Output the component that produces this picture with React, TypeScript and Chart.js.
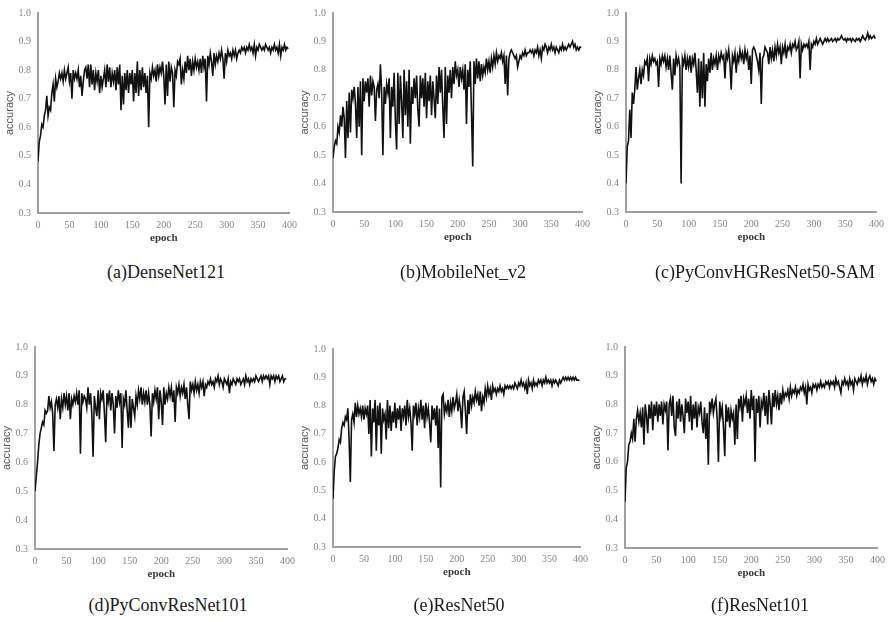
import React, { useEffect, useRef } from "react";
import { Chart, registerables } from "chart.js";

Chart.register(...registerables);

// ---------------- data ----------------
// one value every EPOCH_STEP epochs, starting at epoch 0
const EPOCH_STEP = 2;
const X_MIN = 0;
const X_MAX = 400;
const X_STEP = 50;
const Y_MIN = 0.3;
const Y_MAX = 1.0;
const Y_STEP = 0.1;

const captions = [
  "(a)DenseNet121",
  "(b)MobileNet_v2",
  "(c)PyConvHGResNet50-SAM",
  "(d)PyConvResNet101",
  "(e)ResNet50",
  "(f)ResNet101",
];

const denseNet121 = [
  0.48, 0.55, 0.57, 0.61, 0.60, 0.64, 0.66, 0.71, 0.64, 0.67,
  0.66, 0.72, 0.75, 0.69, 0.77, 0.74, 0.76, 0.79, 0.77, 0.79,
  0.76, 0.80, 0.77, 0.79, 0.81, 0.76, 0.79, 0.70, 0.80, 0.77,
  0.79, 0.77, 0.80, 0.74, 0.78, 0.71, 0.76, 0.80, 0.81, 0.77,
  0.82, 0.74, 0.82, 0.75, 0.80, 0.73, 0.79, 0.76, 0.80, 0.72,
  0.78, 0.74, 0.77, 0.80, 0.74, 0.82, 0.76, 0.81, 0.74, 0.79,
  0.76, 0.80, 0.73, 0.81, 0.75, 0.82, 0.66, 0.78, 0.68, 0.79,
  0.73, 0.80, 0.72, 0.79, 0.75, 0.80, 0.69, 0.79, 0.72, 0.83,
  0.71, 0.80, 0.73, 0.81, 0.74, 0.79, 0.72, 0.78, 0.60, 0.79,
  0.77, 0.81, 0.78, 0.80, 0.76, 0.82, 0.78, 0.81, 0.79, 0.83,
  0.78, 0.68, 0.82, 0.71, 0.83, 0.76, 0.81, 0.79, 0.67, 0.80,
  0.78, 0.83, 0.82, 0.84, 0.75, 0.80, 0.77, 0.83, 0.79, 0.85,
  0.80, 0.84, 0.78, 0.83, 0.80, 0.84, 0.81, 0.83, 0.80, 0.84,
  0.79, 0.85, 0.81, 0.84, 0.69, 0.85, 0.82, 0.86, 0.83, 0.78,
  0.86, 0.82, 0.85, 0.83, 0.86, 0.84, 0.87, 0.84, 0.77, 0.86,
  0.83, 0.87, 0.85, 0.86, 0.84, 0.87, 0.85, 0.87, 0.84, 0.86,
  0.87, 0.86, 0.88, 0.87, 0.88, 0.86, 0.88, 0.87, 0.89, 0.87,
  0.88, 0.86, 0.89, 0.85, 0.88, 0.87, 0.89, 0.88, 0.87, 0.88,
  0.87, 0.89, 0.88, 0.87, 0.88, 0.86, 0.88, 0.87, 0.89, 0.87,
  0.88, 0.86, 0.89, 0.85, 0.88, 0.87, 0.89, 0.87, 0.88, 0.875,
];

const mobileNetV2 = [
  0.49, 0.53, 0.55, 0.54, 0.60, 0.58, 0.64, 0.60, 0.67, 0.63,
  0.49, 0.69, 0.56, 0.72, 0.58, 0.73, 0.70, 0.74, 0.68, 0.56,
  0.74, 0.60, 0.76, 0.50, 0.77, 0.69, 0.76, 0.72, 0.77, 0.67,
  0.78, 0.71, 0.76, 0.74, 0.62, 0.73, 0.75, 0.70, 0.82, 0.72,
  0.50, 0.74, 0.68, 0.75, 0.72, 0.77, 0.56, 0.74, 0.67, 0.79,
  0.62, 0.52, 0.79, 0.61, 0.78, 0.69, 0.56, 0.80, 0.64, 0.76,
  0.60, 0.80, 0.54, 0.74, 0.68, 0.77, 0.70, 0.78, 0.66, 0.60,
  0.78, 0.70, 0.77, 0.67, 0.79, 0.63, 0.76, 0.69, 0.78, 0.64,
  0.76, 0.70, 0.63, 0.78, 0.68, 0.81, 0.72, 0.80, 0.67, 0.56,
  0.81, 0.61, 0.78, 0.72, 0.80, 0.70, 0.81, 0.75, 0.83, 0.78,
  0.80, 0.74, 0.81, 0.77, 0.80, 0.73, 0.82, 0.61, 0.80, 0.74,
  0.83, 0.65, 0.46, 0.83, 0.75, 0.84, 0.77, 0.83, 0.76, 0.82,
  0.78, 0.81, 0.79, 0.84, 0.80, 0.83, 0.79, 0.84, 0.81, 0.85,
  0.82, 0.86, 0.83, 0.85, 0.84, 0.86, 0.83, 0.85, 0.75, 0.85,
  0.71, 0.84, 0.86, 0.87, 0.86, 0.85, 0.84, 0.85, 0.81, 0.83,
  0.85, 0.84, 0.86, 0.85, 0.87, 0.85, 0.86, 0.86, 0.87, 0.86,
  0.87, 0.85, 0.87, 0.86, 0.88, 0.85, 0.87, 0.84, 0.88, 0.87,
  0.89, 0.88, 0.86, 0.88, 0.87, 0.89, 0.87, 0.88, 0.86, 0.88,
  0.87, 0.86, 0.88, 0.87, 0.89, 0.87, 0.88, 0.87, 0.88, 0.89,
  0.88, 0.89, 0.90, 0.88, 0.89, 0.87, 0.88, 0.87, 0.88, 0.88,
];

const pyConvHGResNet50SAM = [
  0.40, 0.53, 0.55, 0.66, 0.56, 0.72, 0.68, 0.73, 0.81, 0.73,
  0.77, 0.80, 0.75, 0.80, 0.78, 0.83, 0.82, 0.84, 0.76, 0.84,
  0.82, 0.85, 0.83, 0.84, 0.82, 0.83, 0.74, 0.84, 0.82, 0.85,
  0.83, 0.85, 0.81, 0.84, 0.80, 0.85, 0.79, 0.73, 0.84, 0.78,
  0.85, 0.82, 0.84, 0.81, 0.40, 0.84, 0.82, 0.85, 0.80, 0.84,
  0.81, 0.85, 0.79, 0.84, 0.82, 0.86, 0.80, 0.72, 0.84, 0.67,
  0.83, 0.70, 0.86, 0.67, 0.82, 0.76, 0.84, 0.79, 0.86, 0.80,
  0.84, 0.82, 0.85, 0.80, 0.85, 0.83, 0.86, 0.84, 0.85, 0.77,
  0.86, 0.84, 0.87, 0.82, 0.73, 0.85, 0.83, 0.86, 0.79, 0.85,
  0.83, 0.87, 0.84, 0.86, 0.82, 0.87, 0.84, 0.86, 0.80, 0.85,
  0.75, 0.87, 0.88, 0.87, 0.85, 0.83, 0.80, 0.86, 0.68, 0.84,
  0.85, 0.88, 0.87, 0.86, 0.82, 0.88, 0.84, 0.87, 0.83, 0.88,
  0.85, 0.89, 0.86, 0.88, 0.82, 0.88, 0.86, 0.89, 0.84, 0.88,
  0.87, 0.89, 0.86, 0.89, 0.88, 0.90, 0.87, 0.88, 0.90, 0.77,
  0.89, 0.87, 0.89, 0.88, 0.89, 0.88, 0.90, 0.80, 0.89, 0.88,
  0.90, 0.89, 0.91, 0.89, 0.90, 0.91, 0.90, 0.89, 0.90, 0.91,
  0.90, 0.91, 0.90, 0.905, 0.91, 0.90, 0.905, 0.91, 0.90, 0.91,
  0.905, 0.91, 0.92, 0.91, 0.905, 0.91, 0.90, 0.91, 0.905, 0.91,
  0.90, 0.91, 0.905, 0.90, 0.91, 0.905, 0.91, 0.90, 0.91, 0.92,
  0.91, 0.905, 0.915, 0.93, 0.91, 0.92, 0.91, 0.915, 0.92, 0.91,
];

const pyConvResNet101 = [
  0.50, 0.55, 0.60, 0.66, 0.70, 0.72, 0.74, 0.73, 0.78, 0.77,
  0.78, 0.83, 0.79, 0.81, 0.77, 0.64, 0.80, 0.82, 0.79, 0.83,
  0.75, 0.82, 0.79, 0.84, 0.80, 0.83, 0.78, 0.84, 0.75, 0.82,
  0.80, 0.83, 0.81, 0.84, 0.80, 0.85, 0.63, 0.84, 0.81, 0.83,
  0.82, 0.79, 0.86, 0.80, 0.84, 0.77, 0.62, 0.83, 0.79, 0.76,
  0.85, 0.75, 0.84, 0.82, 0.85, 0.77, 0.67, 0.84, 0.81, 0.85,
  0.78, 0.84, 0.80, 0.70, 0.83, 0.79, 0.85, 0.81, 0.84, 0.65,
  0.82, 0.80, 0.85, 0.78, 0.72, 0.83, 0.72, 0.82, 0.79, 0.76,
  0.83, 0.80, 0.85, 0.82, 0.86, 0.80, 0.84, 0.81, 0.85, 0.80,
  0.84, 0.80, 0.69, 0.84, 0.81, 0.85, 0.82, 0.86, 0.75, 0.85,
  0.81, 0.73, 0.86, 0.80, 0.84, 0.82, 0.86, 0.83, 0.86, 0.81,
  0.85, 0.74, 0.86, 0.84, 0.87, 0.83, 0.86, 0.84, 0.87, 0.82,
  0.86, 0.80, 0.75, 0.88, 0.85, 0.87, 0.84, 0.88, 0.85, 0.87,
  0.84, 0.88, 0.86, 0.88, 0.83, 0.87, 0.86, 0.88, 0.87, 0.89,
  0.87, 0.88, 0.86, 0.89, 0.88, 0.90, 0.87, 0.89, 0.88, 0.86,
  0.89, 0.88, 0.87, 0.89, 0.84, 0.88, 0.87, 0.89, 0.88, 0.87,
  0.89, 0.88, 0.89, 0.87, 0.88, 0.89, 0.87, 0.90, 0.88, 0.89,
  0.87, 0.89, 0.88, 0.89, 0.88, 0.90, 0.89, 0.88, 0.89, 0.90,
  0.88, 0.90, 0.89, 0.90, 0.89, 0.90, 0.87, 0.90, 0.89, 0.90,
  0.88, 0.90, 0.89, 0.90, 0.88, 0.89, 0.90, 0.88, 0.89, 0.89,
];

const resNet50 = [
  0.47, 0.57, 0.62, 0.63, 0.65, 0.68, 0.67, 0.72, 0.74, 0.73,
  0.76, 0.75, 0.79, 0.68, 0.53, 0.75, 0.77, 0.74, 0.81, 0.76,
  0.80, 0.77, 0.79, 0.76, 0.80, 0.75, 0.79, 0.77, 0.80, 0.70,
  0.82, 0.62, 0.79, 0.74, 0.82, 0.64, 0.80, 0.73, 0.81, 0.63,
  0.79, 0.75, 0.77, 0.68, 0.82, 0.72, 0.80, 0.71, 0.78, 0.74,
  0.81, 0.72, 0.79, 0.75, 0.80, 0.71, 0.79, 0.76, 0.80, 0.73,
  0.82, 0.76, 0.79, 0.74, 0.64, 0.80, 0.77, 0.81, 0.73, 0.79,
  0.76, 0.82, 0.75, 0.80, 0.72, 0.81, 0.76, 0.79, 0.74, 0.67,
  0.80, 0.75, 0.79, 0.73, 0.80, 0.65, 0.79, 0.51, 0.83, 0.84,
  0.77, 0.80, 0.78, 0.82, 0.76, 0.81, 0.78, 0.83, 0.79, 0.81,
  0.84, 0.78, 0.82, 0.79, 0.72, 0.83, 0.85, 0.78, 0.70, 0.82,
  0.77, 0.84, 0.80, 0.83, 0.81, 0.85, 0.82, 0.84, 0.80, 0.85,
  0.78, 0.83, 0.81, 0.86, 0.83, 0.87, 0.84, 0.86, 0.82, 0.87,
  0.85, 0.86, 0.84, 0.86, 0.85, 0.87, 0.85, 0.86, 0.84, 0.87,
  0.86, 0.87, 0.86, 0.87, 0.86, 0.87, 0.86, 0.88, 0.87, 0.86,
  0.88, 0.87, 0.89, 0.87, 0.88, 0.86, 0.88, 0.84, 0.89, 0.87,
  0.88, 0.86, 0.89, 0.87, 0.88, 0.87, 0.89, 0.88, 0.89, 0.87,
  0.89, 0.88, 0.90, 0.88, 0.89, 0.88, 0.89, 0.87, 0.89, 0.88,
  0.89, 0.88, 0.87, 0.89, 0.88, 0.89, 0.90, 0.89, 0.90, 0.89,
  0.90, 0.89, 0.90, 0.89, 0.90, 0.89, 0.90, 0.89, 0.89, 0.89,
];

const resNet101 = [
  0.46, 0.58, 0.60, 0.66, 0.67, 0.70, 0.68, 0.75, 0.67, 0.75,
  0.78, 0.74, 0.77, 0.72, 0.79, 0.66, 0.80, 0.76, 0.70, 0.80,
  0.75, 0.81, 0.71, 0.80, 0.76, 0.81, 0.74, 0.80, 0.76, 0.81,
  0.73, 0.80, 0.78, 0.81, 0.64, 0.80, 0.82, 0.76, 0.83, 0.72,
  0.69, 0.81, 0.75, 0.82, 0.74, 0.80, 0.76, 0.70, 0.82, 0.77,
  0.81, 0.74, 0.83, 0.71, 0.80, 0.75, 0.81, 0.72, 0.79, 0.77,
  0.81, 0.74, 0.70, 0.79, 0.68, 0.77, 0.59, 0.81, 0.78, 0.82,
  0.77, 0.80, 0.82, 0.75, 0.60, 0.81, 0.76, 0.79, 0.72, 0.62,
  0.80, 0.74, 0.79, 0.72, 0.78, 0.75, 0.77, 0.66, 0.80, 0.68,
  0.82, 0.79, 0.83, 0.74, 0.82, 0.80, 0.83, 0.77, 0.82, 0.75,
  0.85, 0.78, 0.83, 0.60, 0.82, 0.77, 0.83, 0.72, 0.81, 0.79,
  0.84, 0.76, 0.83, 0.73, 0.85, 0.80, 0.73, 0.84, 0.79, 0.85,
  0.80, 0.83, 0.78, 0.84, 0.80, 0.85, 0.82, 0.84, 0.83, 0.85,
  0.82, 0.86, 0.83, 0.85, 0.84, 0.86, 0.83, 0.85, 0.84, 0.86,
  0.85, 0.87, 0.84, 0.86, 0.80, 0.87, 0.85, 0.86, 0.84, 0.87,
  0.86, 0.87, 0.85, 0.87, 0.86, 0.88, 0.86, 0.87, 0.86, 0.88,
  0.87, 0.88, 0.86, 0.88, 0.87, 0.88, 0.86, 0.89, 0.87, 0.88,
  0.86, 0.84, 0.88, 0.87, 0.89, 0.87, 0.88, 0.86, 0.89, 0.87,
  0.88, 0.85, 0.89, 0.88, 0.87, 0.89, 0.88, 0.90, 0.87, 0.89,
  0.88, 0.90, 0.87, 0.89, 0.90, 0.88, 0.89, 0.87, 0.89, 0.88,
];

const seriesList = [
  denseNet121,
  mobileNetV2,
  pyConvHGResNet50SAM,
  pyConvResNet101,
  resNet50,
  resNet101,
];

// ---------------- layout (page pixels) ----------------
// plot rectangle of each panel, and the caption centre
const PANEL_LAYOUT = [
  { l: 38, t: 9, r: 295, b: 213, cx: 166, cy: 272 },
  { l: 333, t: 9, r: 588, b: 212, cx: 463, cy: 272 },
  { l: 626, t: 9, r: 882, b: 212, cx: 765, cy: 272 },
  { l: 35, t: 343, r: 293, b: 549, cx: 168, cy: 605 },
  { l: 333, t: 345, r: 586, b: 547, cx: 459, cy: 605 },
  { l: 625, t: 343, r: 883, b: 548, cx: 760, cy: 605 },
];

const Y_AXIS_W = 38;
const X_AXIS_H = 32;
const PAD_TOP = 9;
const PAD_RIGHT = 8;

const AXIS_COLOR = "#a0a0a0";
const TICK_COLOR = "#858585";
const LINE_COLOR = "#111111";

function Panel({ values, layout }: { values: number[]; layout: any }) {
  const ref = useRef<HTMLCanvasElement | null>(null);
  const width = layout.r - layout.l + Y_AXIS_W + PAD_RIGHT;
  const height = layout.b - layout.t + PAD_TOP + X_AXIS_H;

  useEffect(() => {
    if (!ref.current) return;
    const points = values.map((v, i) => ({ x: i * EPOCH_STEP, y: v }));
    const chart = new Chart(ref.current, {
      type: "line",
      data: {
        datasets: [
          {
            data: points,
            borderColor: LINE_COLOR,
            borderWidth: 1.6,
            pointRadius: 0,
            fill: false,
            tension: 0,
          },
        ],
      },
      options: {
        responsive: false,
        animation: false,
        events: [],
        layout: { padding: { top: PAD_TOP, right: PAD_RIGHT, left: 0, bottom: 0 } },
        plugins: { legend: { display: false }, tooltip: { enabled: false } },
        scales: {
          x: {
            type: "linear",
            min: X_MIN,
            max: X_MAX,
            ticks: {
              stepSize: X_STEP,
              color: TICK_COLOR,
              font: { family: "'Liberation Serif', serif", size: 10 },
              padding: 6,
              maxRotation: 0,
              autoSkip: false,
            },
            grid: { display: false, drawTicks: false },
            border: { display: true, color: AXIS_COLOR, width: 2 },
            title: {
              display: true,
              text: "epoch",
              color: "#3a3a3a",
              font: { family: "'Liberation Serif', serif", size: 11, weight: "bold" },
              padding: { top: 0, bottom: 0 },
            },
            afterFit: (s: any) => {
              s.height = X_AXIS_H;
            },
          },
          y: {
            type: "linear",
            min: Y_MIN,
            max: Y_MAX,
            ticks: {
              stepSize: Y_STEP,
              color: TICK_COLOR,
              font: { family: "'Liberation Serif', serif", size: 10 },
              padding: 7,
              callback: (v: any) => Number(v).toFixed(1),
            },
            grid: { display: false, drawTicks: false },
            border: { display: true, color: AXIS_COLOR, width: 2 },
            title: {
              display: true,
              text: "accuracy",
              color: "#555555",
              font: { family: "'Liberation Sans', sans-serif", size: 11 },
              padding: { top: 3, bottom: 0 },
            },
            afterFit: (s: any) => {
              s.width = Y_AXIS_W;
            },
          },
        },
      } as any,
    });
    return () => chart.destroy();
  }, [values]);

  return (
    <canvas
      ref={ref}
      width={width}
      height={height}
      style={{
        position: "absolute",
        left: layout.l - Y_AXIS_W,
        top: layout.t - PAD_TOP,
        width,
        height,
        display: "block",
      }}
    />
  );
}

export default function App() {
  return (
    <div
      style={{
        position: "absolute",
        left: 0,
        top: 0,
        width: 891,
        height: 622,
        overflow: "hidden",
        background: "#ffffff",
      }}
    >
      {seriesList.map((values, i) => (
        <Panel key={i} values={values} layout={PANEL_LAYOUT[i]} />
      ))}
      {captions.map((c, i) => (
        <div
          key={"c" + i}
          style={{
            position: "absolute",
            left: PANEL_LAYOUT[i].cx,
            top: PANEL_LAYOUT[i].cy - 11,
            transform: "translateX(-50%)",
            whiteSpace: "nowrap",
            fontFamily: "'Liberation Serif', serif",
            fontSize: 18,
            lineHeight: "22px",
            color: "#1a1a1a",
          }}
        >
          {c}
        </div>
      ))}
    </div>
  );
}
